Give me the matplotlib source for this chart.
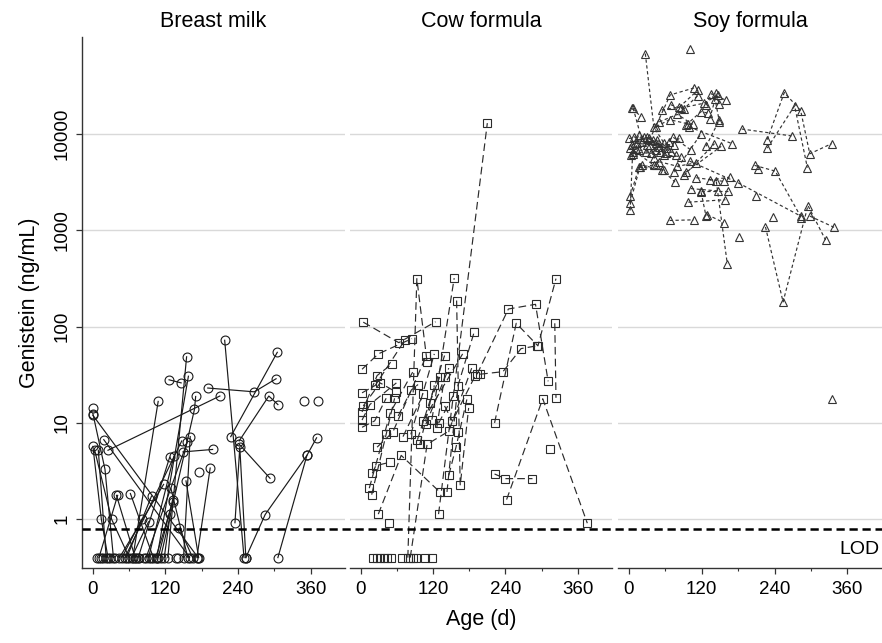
import matplotlib
matplotlib.use('Agg')
import matplotlib.pyplot as plt
from matplotlib import transforms
from matplotlib.lines import Line2D
from matplotlib.ticker import NullLocator

plt.rcParams['font.family'] = ['Liberation Sans', 'DejaVu Sans']

# panel titles and axis ticks
panel_titles = ['Breast milk', 'Cow formula', 'Soy formula']
x_ticks = [0, 120, 240, 360]
x_minor = [60, 180, 300]
y_ticks = [1, 10, 100, 1000, 10000]
y_labels = ['1', '10', '100', '1000', '10000']
lod = 0.8

# Breast milk: one list per infant (age in days, genistein ng/mL)
bm_age = [
    [0, 174], [0, 20, 34], [0, 14, 25], [3, 31, 60], [25, 210], [18, 160],
    [39, 70], [10, 41], [62, 100], [66, 108], [124, 155], [112, 168, 170],
    [126, 146], [190, 267, 303], [228, 305], [242, 291, 306], [242, 293],
    [218, 250], [235, 243, 253], [253, 285, 354, 370], [306, 354], [349], [372],
    [149, 198], [176], [172, 194], [53, 147], [88, 156], [150, 161],
    [75, 127], [92, 134], [44, 117], [129, 157], [56, 97], [108, 132], [104, 132],
    [118, 128], [48, 81], [64, 92], [143, 165], [9, 22], [154, 175], [0], [106, 158],
    [7], [13], [16], [28], [37], [72], [76], [84], [96], [137], [141],
]
bm_val = [
    [12, 0.4], [12.5, 3.3, 0.4], [5.7, 1.0, 0.4], [5.2, 1.0, 0.4], [5.2, 19], [6.7, 0.4],
    [1.77, 0.4], [0.4, 1.77], [1.85, 0.4], [0.4, 16.7], [0.4, 48.5], [0.4, 13.8, 18.8],
    [28, 26], [23, 21, 28.7], [7.2, 54], [6.5, 19, 15.5], [6.0, 2.66],
    [72, 0.4], [0.92, 5.6, 0.4], [0.4, 1.12, 4.6, 7.0], [0.4, 4.6], [17], [17],
    [5.0, 5.3], [3.1], [0.4, 3.4], [0.4, 6.5], [0.4, 6.3], [0.4, 7.2],
    [0.4, 4.4], [0.4, 4.5], [0.4, 2.3], [2.1, 0.4], [0.4, 1.74], [0.4, 1.6], [0.4, 1.5],
    [0.4, 1.13], [0.4, 1.0], [0.4, 0.94], [0.81, 0.4], [5.2, 0.4], [2.5, 0.4], [14.4], [0.4, 30.5],
    [0.4], [0.4], [0.4], [0.4], [0.4], [0.4], [0.4], [0.4], [0.4], [0.4], [0.4],
]

# Cow formula
cf_age = [
    [4, 63, 124], [2, 29, 85], [2, 24, 73], [2, 27, 52], [4, 32, 58],
    [2, 15, 59], [2, 23, 42], [14, 49, 86], [18, 42, 56], [19, 25, 48],
    [62, 84, 95], [27, 53, 109], [29, 67, 131], [70, 104], [83, 122],
    [47], [94, 139], [98, 122], [103, 169], [78, 93, 110],
    [108, 146], [118, 155], [126, 139], [114, 131], [129, 153],
    [129, 210], [82, 110, 146, 184], [139, 152, 190], [143, 161, 188], [146, 158, 176],
    [159, 165, 179], [161], [193, 245, 290, 311], [198, 236, 266, 292], [222, 258, 294, 324],
    [222, 240, 285], [242, 302, 376], [314], [322, 324],
    [20], [26], [32], [38], [44], [50], [68], [87], [91], [107], [118],
]
cf_val = [
    [111, 68, 112], [36, 52, 75], [20.5, 24.5, 72], [13, 31, 41], [15, 26, 21],
    [10.7, 15.5, 26], [9, 10.5, 18], [2.1, 12.8, 33.6], [1.8, 7.6, 18], [3.0, 3.6, 3.9],
    [11.8, 22, 25], [5.6, 8.0, 50], [1.13, 4.6, 1.92], [7.2, 20], [7.6, 52],
    [0.91], [6.7, 50], [6.0, 24.5], [10.5, 52], [0.4, 314, 42.6],
    [9.7, 37], [10.8, 318], [8.9, 30], [16, 30], [9.9, 19],
    [1.13, 12900], [0.4, 6.0, 8.2, 37], [15, 10.4, 31], [1.92, 24, 87], [2.86, 5.6, 17.5],
    [186, 2.25, 14.3], [8.1], [32, 152, 170, 27], [32, 34, 59, 63], [10, 108, 63, 314],
    [2.95, 2.64, 2.64], [1.6, 17.8, 0.91], [5.4], [108, 18.2],
    [0.4], [0.4], [0.4], [0.4], [0.4], [0.4], [0.4], [0.4], [0.4], [0.4], [0.4],
]

# Soy formula
sf_age = [
    [27, 41, 58], [100], [228, 256, 283, 298, 334], [186, 268], [228, 273, 294],
    [225, 254, 295, 324], [207, 241, 284], [100, 180, 283], [298, 338], [144, 162],
    [2, 18, 45], [2, 6], [2, 17, 57], [0, 25, 44], [3, 16, 33],
    [5, 20], [7, 22, 50], [5, 30, 61], [8, 39, 69], [14, 44, 74],
    [6, 36, 66], [17, 52, 83], [28, 58, 86], [41, 72, 102], [50, 80, 111],
    [2, 41], [22, 55, 76], [30, 68, 108], [54, 83, 114], [69, 90, 113],
    [86, 124, 147], [45, 67, 97], [50, 80, 105], [94, 119, 130], [127, 136, 160],
    [133, 142, 149], [143, 149], [99, 170], [91, 141], [94, 152],
    [111, 157], [133, 166], [102, 147], [119, 163], [98, 159],
    [119, 127], [129, 156], [67, 107], [127, 149], [75, 119],
    [10, 35, 63], [12, 47, 78],
    [213], [209], [238], [182], [335],
]
sf_val = [
    [68000, 11800, 7940], [76000], [8700, 26800, 17400, 6200, 7900], [11200, 9500], [7100, 19500, 4450],
    [1080, 180, 1800, 790], [4700, 4100, 1350], [5200, 3100, 1400], [1400, 1070], [3200, 450],
    [1920, 4500, 4800], [1600, 6100], [2270, 4550, 4200], [8950, 9300, 6770], [6010, 9700, 8950],
    [18300, 15100], [18500, 8260, 7330], [7630, 9300, 6250], [9300, 8600, 6500], [7940, 7940, 7630],
    [6500, 6250, 8260], [6770, 6500, 8950], [6500, 6010, 5800], [5550, 9300, 6800], [5130, 4600, 5000],
    [7100, 4730], [4730, 4200, 3150], [7630, 25300, 30000], [17700, 18900, 28500], [20000, 18000, 24700],
    [18500, 20800, 25300], [11900, 14000, 12700], [13300, 15900, 12500], [12300, 17000, 16400], [19800, 26000, 22300],
    [14300, 22800, 13400], [26200, 20600], [11800, 7900], [3700, 7900], [4000, 7400],
    [3500, 3200], [3300, 3550], [2700, 2550], [2550, 2550], [1950, 2070],
    [2470, 1400], [1450, 1200], [1260, 1280], [7400, 13900], [4000, 10000],
    [8000, 7700, 7100], [7000, 8600, 6000],
    [4300], [2250], [1370], [840], [17.5],
]

panels = [
    (bm_age, bm_val, 'o', '-', '#1a1a1a', 6.4),
    (cf_age, cf_val, 's', (0, (6.5, 3.5)), '#2b2b2b', 6.4),
    (sf_age, sf_val, '^', (0, (2.8, 2.2)), '#333333', 6.0),
]

fig = plt.figure(figsize=(8.82, 6.43), dpi=100)
lefts = [82 / 882, 350 / 882, 618 / 882]
widths = [263 / 882, 262 / 882, 264 / 882]
bottom = 1 - 568 / 643
height = 531 / 643

axes = []
for i, (ages, vals, mk, ls, col, size) in enumerate(panels):
    ax = fig.add_axes([lefts[i], bottom, widths[i], height])
    axes.append(ax)
    for a, v in zip(ages, vals):
        ax.plot(a, v, linestyle=ls, color=col, lw=0.85, marker=mk,
                ms=size, mfc='none', mec=col, mew=0.8)
    ax.set_yscale('log')
    ax.set_ylim(0.312, 101000)
    ax.set_xlim(-18, 417)
    ax.set_yticks(y_ticks)
    ax.yaxis.set_minor_locator(NullLocator())
    ax.yaxis.grid(True, color='#d9d9d9', lw=1.0)
    ax.set_axisbelow(True)
    ax.set_xticks(x_ticks)
    ax.set_xticks(x_minor, minor=True)
    ax.tick_params(axis='x', which='major', length=4, width=0.9, color='#333333',
                   labelsize=13.5, pad=5)
    ax.tick_params(axis='x', which='minor', length=2.5, width=0.8, color='#333333')
    for s in ['top', 'right']:
        ax.spines[s].set_visible(False)
    ax.spines['bottom'].set_color('#333333')
    ax.spines['bottom'].set_linewidth(1.0)
    ax.set_title(panel_titles[i], fontsize=15.5, pad=7)
    if i == 0:
        ax.set_yticklabels(y_labels)
        ax.tick_params(axis='y', length=4, width=0.9, color='#333333', labelsize=13.5,
                       labelrotation=90, pad=4)
        for lab in ax.get_yticklabels():
            lab.set_va('center')
        ax.spines['left'].set_color('#333333')
        ax.spines['left'].set_linewidth(1.0)
        ax.set_ylabel('Genistein (ng/mL)', fontsize=15.5, labelpad=10)
    else:
        ax.spines['left'].set_visible(False)
        ax.tick_params(axis='y', left=False, labelleft=False)
    if i == 1:
        ax.set_xlabel('Age (d)', fontsize=15.5, labelpad=8)

# LOD dashed line across all panels
trans = transforms.blended_transform_factory(fig.transFigure, axes[0].transData)
fig.add_artist(Line2D([lefts[0], 1.0], [lod, lod], transform=trans, color='black',
                      lw=1.8, linestyle=(0, (3.3, 1.9))))
axes[2].text(0.99, 0.48, 'LOD', transform=transforms.blended_transform_factory(
    axes[2].transAxes, axes[2].transData), ha='right', va='center', fontsize=14)

fig.savefig('out.png', dpi=100)
